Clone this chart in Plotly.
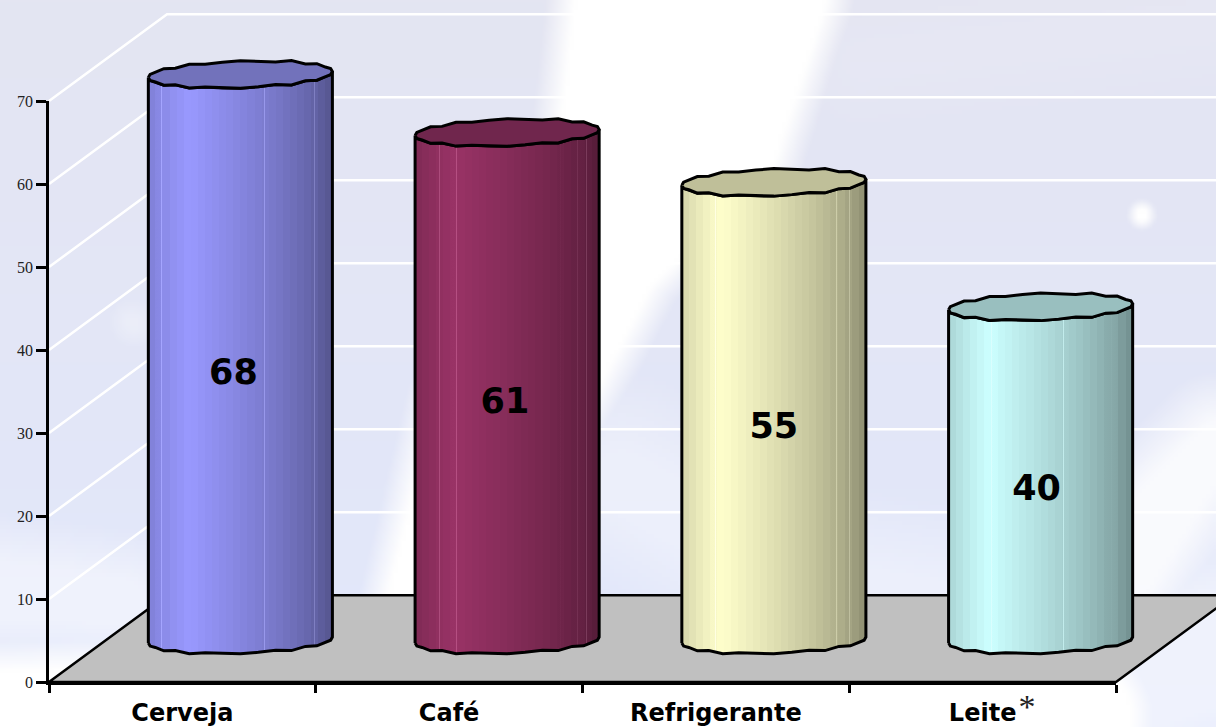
import base64
import struct
import zlib

import numpy as np
import plotly.graph_objects as go

# ---- data ----
categories = ["Cerveja", "Café", "Refrigerante", "Leite"]
values = [68, 61, 55, 40]
base_colors = ["#9999FF", "#993366", "#FFFFCC", "#CCFFFF"]
top_colors = ["#7272BB", "#70264D", "#BFBF99", "#99BFBF"]
seam_fracs = [
    [0.07, 0.24, 0.63, 0.90],
    [0.13, 0.22, 0.79, 0.88, 0.93],
    [0.18, 0.84, 0.91],
    [0.23, 0.62, 0.88],
]
label_nudge = [-0.026, -0.008, 0.0, -0.015]
y_ticks = [0, 10, 20, 30, 40, 50, 60, 70]
# small dents of the low-poly rim, in axis units, left to right
rim_dents = [0.0, -0.06, 0.05, -0.12, 0.12, -0.12, 0.08, 0.0, -0.08, 0.0, 0.1, -0.15, 0.1, -0.12, 0.05, -0.06, 0.0]

# ---- page and chart box ----
PAGE_W, PAGE_H = 1216, 727
BOX_L, BOX_R, BOX_T, BOX_B = 49, 1116, 101, 682
PX_X = (BOX_R - BOX_L) / 4
PX_Y = (BOX_B - BOX_T) / 70

# ---- 3D projection of the chart box, in axis units ----
DEPTH_X, DEPTH_Y = 0.4424, 10.45
CYL_X, CYL_Y = 0.2174, 5.05
TOP_Y = 5.2
RX, RY = 0.345, 1.58
SKEW = 3.0  # pixels of tilt across a radius


def png_uri(arr):
    h, w, _ = arr.shape
    raw = b"".join(b"\x00" + arr[i].tobytes() for i in range(h))

    def chunk(tag, data):
        c = struct.pack(">I", len(data)) + tag + data
        return c + struct.pack(">I", zlib.crc32(tag + data) & 0xFFFFFFFF)

    png = b"\x89PNG\r\n\x1a\n" + chunk(b"IHDR", struct.pack(">IIBBBBB", w, h, 8, 2, 0, 0, 0)) \
        + chunk(b"IDAT", zlib.compress(raw)) + chunk(b"IEND", b"")
    return "data:image/png;base64," + base64.b64encode(png).decode()


def background():
    W, H = 304, 182
    yy, xx = np.mgrid[0:H, 0:W]
    px, py = xx * 4.0, yy * 4.0
    t = py / PAGE_H
    img = np.stack([228 - 2 * t, 229 + 3 * t, 242 + 10 * t], -1)
    white = np.zeros((H, W))

    def stroke(pts, sigma, amp):
        nonlocal white
        for (x0, y0, r0), (x1, y1, r1) in zip(pts[:-1], pts[1:]):
            dx, dy = x1 - x0, y1 - y0
            u = np.clip(((px - x0) * dx + (py - y0) * dy) / (dx * dx + dy * dy), 0, 1)
            d = np.hypot(px - x0 - u * dx, py - y0 - u * dy)
            r = r0 + (r1 - r0) * u
            white = np.maximum(white, amp * np.clip(1 - (d - r) / sigma, 0, 1))

    stroke([(700, -20, 125), (670, 120, 110), (600, 260, 55), (500, 420, 70), (470, 610, 85)], 30, 1.0)
    stroke([(-20, 700, 30), (300, 720, 60), (700, 720, 60), (1080, 715, 50)], 40, 1.0)
    stroke([(1216, 440, 20), (1120, 560, 40), (1090, 610, 20)], 50, 0.8)
    stroke([(1150, 700, 30), (1216, 650, 60)], 60, 0.45)
    stroke([(1140, 212, 5), (1140, 214, 5)], 10, 1.0)
    stroke([(0, 590, 30), (120, 600, 25)], 50, 0.45)
    stroke([(620, 480, 30), (820, 590, 30), (1000, 610, 20)], 80, 0.35)
    stroke([(860, 60, 10), (1216, 20, 10)], 60, 0.10)
    stroke([(130, 320, 6), (132, 322, 6)], 20, 0.3)
    img = img + (255 - img) * white[..., None]
    return png_uri(np.clip(img, 0, 255).astype(np.uint8))


def shade(frac):
    stops = [0, 0.12, 0.22, 0.45, 0.7, 0.88, 1.0]
    fac = [0.84, 0.94, 1.0, 0.90, 0.78, 0.67, 0.56]
    return np.interp(frac, stops, fac)


def hex_rgb(c):
    return [int(c[i:i + 2], 16) for i in (1, 3, 5)]


def rgb(col, f=1.0, add=0):
    return "rgb(%d,%d,%d)" % tuple(min(255, int(v * f + add)) for v in col)


def gradient(color, seams):
    col = hex_rgb(color)
    n = 26
    pairs = []
    edges = np.linspace(0, 1, n + 1)
    for a, b in zip(edges[:-1], edges[1:]):
        c = rgb(col, shade((a + b) / 2))
        pairs.append([float(a), c])
        pairs.append([float(b) - 1e-4, c])
    for s in seams:
        f = shade(s)
        pairs.append([s, rgb(col, f)])
        pairs.append([s + 1e-4, rgb(col, f, 28)])
        pairs.append([s + 0.005, rgb(col, f, 28)])
        pairs.append([s + 0.0051, rgb(col, f)])
    pairs.sort(key=lambda p: p[0])
    pairs[-1][0] = 1.0
    return pairs


def arc(cx, cy, lower):
    """Outline of a rim: dented low-poly ellipse, lower or upper half, left to right."""
    n = len(rim_dents)
    ang = np.linspace(np.pi, 2 * np.pi, n) if lower else np.linspace(np.pi, 0, n)
    ex = np.cos(ang)
    ey = np.sin(ang)
    sign = 1 if lower else -1
    return cx + RX * ex, cy + ey * RY + sign * np.array(rim_dents) + ex * SKEW / PX_Y


fig = go.Figure()

# back walls: white grid lines
for v in y_ticks[1:]:
    fig.add_trace(go.Scatter(
        x=[0, DEPTH_X, 4 + DEPTH_X], y=[v, v + DEPTH_Y, v + DEPTH_Y], mode="lines",
        line=dict(color="white", width=2.5), hoverinfo="skip"))

# floor
fig.add_trace(go.Scatter(
    x=[0, DEPTH_X, 4 + DEPTH_X, 4, 0], y=[0, DEPTH_Y, DEPTH_Y, 0, 0], mode="lines",
    fill="toself", fillcolor="#C0C0C0", line=dict(color="black", width=2.5), hoverinfo="skip"))

# cylinders
for i, (cat, val) in enumerate(zip(categories, values)):
    cx = i + 0.5 + CYL_X
    bx, by = arc(cx, CYL_Y, True)
    tx, ty = arc(cx, val + TOP_Y, True)
    body_x = np.concatenate([bx, tx[::-1], bx[:1]])
    body_y = np.concatenate([by, ty[::-1], by[:1]])
    fig.add_trace(go.Scatter(
        x=body_x, y=body_y, mode="lines", fill="toself",
        fillgradient=dict(type="horizontal", colorscale=gradient(base_colors[i], seam_fracs[i])),
        line=dict(color="black", width=3), hoverinfo="skip"))
    ux, uy = arc(cx, val + TOP_Y, False)
    fig.add_trace(go.Scatter(
        x=np.concatenate([tx, ux[::-1]]), y=np.concatenate([ty, uy[::-1]]), mode="lines",
        fill="toself", fillcolor=top_colors[i], line=dict(color="black", width=3), hoverinfo="skip"))
    fig.add_trace(go.Scatter(
        x=[cx + label_nudge[i]], y=[val / 2 + 2.95], mode="text", text=[str(val)],
        textfont=dict(family="DejaVu Sans", size=35, color="black", weight="bold"),
        textposition="middle center", hoverinfo="skip"))

# footnote star after the last category label
fig.add_trace(go.Scatter(
    x=[3.666], y=[-3.3], mode="text", text=["*"],
    textfont=dict(family="Liberation Serif", size=34, color="#222222"),
    textposition="middle center", hoverinfo="skip"))

# invisible trace that brings up the visible axes
fig.add_trace(go.Scatter(x=[0.5], y=[0], mode="none", xaxis="x2", yaxis="y2", hoverinfo="skip"))

fig.update_layout(
    width=PAGE_W, height=PAGE_H, autosize=False, showlegend=False,
    margin=dict(l=0, r=0, t=0, b=0, pad=0, autoexpand=False),
    paper_bgcolor="#E4E5F2", plot_bgcolor="rgba(0,0,0,0)",
    images=[dict(source=background(), xref="paper", yref="paper",
                 x=0, y=1, sizex=1, sizey=1,
                 xanchor="left", yanchor="top", sizing="stretch", layer="below")],
    # full-page axes for the drawing, in the same units as the visible axes
    xaxis=dict(range=[-BOX_L / PX_X, (PAGE_W - BOX_L) / PX_X], domain=[0, 1], visible=False, automargin=False),
    yaxis=dict(range=[-(PAGE_H - BOX_B) / PX_Y, BOX_B / PX_Y], domain=[0, 1], visible=False, automargin=False),
    xaxis2=dict(
        domain=[BOX_L / PAGE_W, BOX_R / PAGE_W], anchor="y2", automargin=False,
        range=[0, 4], showgrid=False, zeroline=False, showline=True, linecolor="black", linewidth=2.5,
        tickmode="array", tickvals=[0.5, 1.5, 2.5, 3.5],
        ticktext=[f"<b>{c}</b>" for c in categories],
        tickfont=dict(family="DejaVu Sans", size=24, color="black"),
        ticks="", tickangle=0, ticklabelstandoff=7,
        minor=dict(tickmode="array", tickvals=[0, 1, 2, 3, 4], ticks="outside", ticklen=8,
                   tickwidth=2.5, tickcolor="black", showgrid=False),
    ),
    yaxis2=dict(
        domain=[(PAGE_H - BOX_B) / PAGE_H, (PAGE_H - BOX_T) / PAGE_H], anchor="x2", automargin=False,
        range=[0, 70], showgrid=False, zeroline=False, showline=True, linecolor="black", linewidth=2.5,
        tickmode="array", tickvals=y_ticks, ticks="outside", ticklen=10, tickwidth=2.5,
        tickcolor="black", tickfont=dict(family="Liberation Serif", size=16, color="#222222"),
    ),
)

fig.write_html(
    "out.html",
    config={"displayModeBar": False},
    post_script=(
        "document.body.style.margin='0';document.body.style.overflow='hidden';"
        "document.documentElement.style.overflow='hidden';"
    ),
)
